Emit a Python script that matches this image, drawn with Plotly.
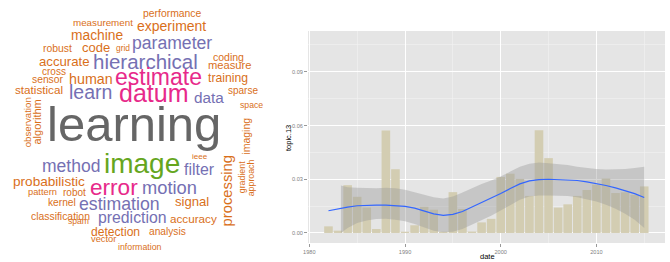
import plotly.graph_objects as go

W, H = 670, 262

# ---------------- data ----------------
years = list(range(1982, 2016))
topic13 = [0.0037, 0.0013, 0.0267, 0.0202, 0.0142, 0.0022, 0.0573, 0.0356, 0.0007, 0.0043,
           0.0146, 0.0130, 0.0007, 0.0228, 0.0134, 0.0008, 0.0059, 0.0079, 0.0313, 0.0331,
           0.0302, 0.0207, 0.0574, 0.0418, 0.0142, 0.0160, 0.0207, 0.0240, 0.0270, 0.0304,
           0.0223, 0.0227, 0.0213, 0.0260]

smooth_fit = [0.0124, 0.0135, 0.0144, 0.0152, 0.0156, 0.0156, 0.0156, 0.0154, 0.0148, 0.0139,
              0.0124, 0.0107, 0.0098, 0.0104, 0.0120, 0.0144, 0.0169, 0.0193, 0.0220, 0.0248,
              0.0274, 0.0291, 0.0298, 0.0300, 0.0298, 0.0296, 0.0293, 0.0285, 0.0276, 0.0265,
              0.0252, 0.0237, 0.0220, 0.0198]

band_years = [1983.3] + list(range(1984, 2016))
band_upper = [0.0265, 0.0256, 0.0252, 0.0250, 0.0250, 0.0252, 0.0250, 0.0241, 0.0226, 0.0213,
              0.0200, 0.0193, 0.0204, 0.0226, 0.0252, 0.0274, 0.0293, 0.0315, 0.0343, 0.0370,
              0.0387, 0.0393, 0.0390, 0.0387, 0.0380, 0.0370, 0.0363, 0.0357, 0.0354, 0.0354,
              0.0357, 0.0363, 0.0370]
band_lower = [0.0000, 0.0028, 0.0056, 0.0070, 0.0078, 0.0080, 0.0074, 0.0065, 0.0050, 0.0033,
              0.0013, 0.0004, 0.0007, 0.0022, 0.0046, 0.0070, 0.0096, 0.0126, 0.0157, 0.0185,
              0.0204, 0.0209, 0.0209, 0.0209, 0.0206, 0.0200, 0.0189, 0.0176, 0.0157, 0.0135,
              0.0107, 0.0074, 0.0028]

y_ticks = [0.00, 0.03, 0.06, 0.09]
y_tick_labels = ["0.00", "0.03", "0.06", "0.09"]
x_ticks = [1980, 1990, 2000, 2010]
x_tick_labels = ["1980", "1990", "2000", "2010"]

words = ["performance", "measurement", "experiment", "machine", "parameter", "robust", "code",
         "grid", "hierarchical", "accurate", "coding", "measure", "training", "cross", "sensor",
         "human", "estimate", "statistical", "learn", "datum", "data", "sparse", "space",
         "learning", "observation", "algorithm", "imaging", "image", "method", "ieee", "filter",
         "processing", "gradient", "approach", "probabilistic", "error", "motion", "pattern",
         "robot", "kernel", "estimation", "signal", "classification", "spam", "prediction",
         "accuracy", "detection", "analysis", "vector", "information"]

# ---------------- word-cloud layout (pixel centre x, y, font px, colour, angle) ----------------
OR, PU, PK, GR, GY = "#D96F1A", "#7570B3", "#E7298A", "#66A61E", "#666666"
placement = {
    "performance": (172, 14, 10.4, OR, 0),
    "measurement": (102.7, 22.7, 9.8, OR, 0),
    "experiment": (171.3, 26, 14, OR, 0),
    "machine": (97.2, 35, 13.8, OR, 0),
    "parameter": (171.7, 42.7, 17.6, PU, 0),
    "robust": (57.8, 48.3, 10.4, OR, 0),
    "code": (95.8, 47.3, 13, OR, 0),
    "grid": (123, 48.3, 8.4, OR, 0),
    "hierarchical": (145.8, 61, 20.5, PU, 0),
    "accurate": (64.7, 61.7, 13.2, OR, 0),
    "coding": (228.5, 56.5, 10.5, OR, 0),
    "measure": (230, 65.3, 11.2, OR, 0),
    "training": (228.3, 78.3, 12.2, OR, 0),
    "cross": (53.7, 71, 10, OR, 0),
    "sensor": (47.8, 79.3, 10.3, OR, 0),
    "human": (90.8, 79, 14.3, OR, 0),
    "estimate": (158.3, 77.3, 23, PK, 0),
    "statistical": (39.2, 89.3, 11.7, OR, 0),
    "learn": (90, 91.7, 19.5, PU, 0),
    "datum": (153, 93, 25, PK, 0),
    "data": (209, 97.7, 15.3, PU, 0),
    "sparse": (243.3, 90.7, 10, OR, 0),
    "space": (251.7, 105, 8.7, OR, 0),
    "learning": (134, 124, 49, GY, 0),
    "observation": (27.3, 122, 9.7, OR, -90),
    "algorithm": (36.5, 122, 11, OR, -90),
    "imaging": (246, 136.7, 10.5, OR, -90),
    "image": (141.7, 163, 28, GR, 0),
    "method": (70.8, 165.7, 17.5, PU, 0),
    "ieee": (200, 156.7, 8, OR, 0),
    "filter": (200, 169, 15.9, PU, 0),
    "processing": (226.7, 190.8, 14.8, OR, -90),
    "gradient": (241.7, 177.5, 8.8, OR, -90),
    "approach": (251, 178.3, 8.8, OR, -90),
    "probabilistic": (49.2, 181.7, 13.6, OR, 0),
    "error": (114.5, 187.3, 22.6, PK, 0),
    "motion": (169.2, 187.3, 18.3, PU, 0),
    "pattern": (42.2, 192.3, 9.3, OR, 0),
    "robot": (74.7, 192.3, 10, OR, 0),
    "kernel": (62.2, 202.7, 10.2, OR, 0),
    "estimation": (119.7, 204, 17.7, PU, 0),
    "signal": (192.2, 201.7, 13.1, OR, 0),
    "classification": (60.2, 216, 10.4, OR, 0),
    "spam": (78.8, 220.7, 8.6, OR, 0),
    "prediction": (132.5, 217.3, 15.8, PU, 0),
    "accuracy": (193.3, 218.3, 11.7, OR, 0),
    "detection": (115.5, 231.7, 12.1, OR, 0),
    "analysis": (167.7, 231.7, 10.2, OR, 0),
    "vector": (103.3, 239.3, 9.3, OR, 0),
    "information": (140, 246.7, 8.8, OR, 0),
}

FONT = "Liberation Sans, Arial, Helvetica, sans-serif"

def px_x(x):
    return x / W

def px_y(y):
    return 1 - y / H

annotations = []
for w in words:
    cx, cy, size, col, ang = placement[w]
    annotations.append(dict(
        text=w, x=px_x(cx), y=px_y(cy), xref="paper", yref="paper",
        xanchor="center", yanchor="middle", showarrow=False, textangle=ang,
        font=dict(family=FONT, size=size, color=col),
    ))

# axis titles
annotations.append(dict(text="topic.13", x=px_x(288), y=px_y(138), xref="paper", yref="paper",
                        xanchor="center", yanchor="middle", showarrow=False, textangle=-90,
                        font=dict(family=FONT, size=7.5, color="#000000")))
annotations.append(dict(text="date", x=px_x(487), y=px_y(256), xref="paper", yref="paper",
                        xanchor="center", yanchor="middle", showarrow=False,
                        font=dict(family=FONT, size=7.5, color="#000000")))

# ---------------- figure ----------------
fig = go.Figure()
fig.add_trace(go.Bar(x=years, y=topic13, width=0.9,
                     marker=dict(color="#D3CDB2", line=dict(width=0)), hoverinfo="skip"))
fig.add_trace(go.Scatter(x=band_years, y=band_lower, mode="lines", line=dict(width=0),
                         hoverinfo="skip"))
fig.add_trace(go.Scatter(x=band_years, y=band_upper, mode="lines", line=dict(width=0),
                         fill="tonexty", fillcolor="rgba(153,153,153,0.4)", hoverinfo="skip"))
fig.add_trace(go.Scatter(x=years, y=smooth_fit, mode="lines",
                         line=dict(color="#3366FF", width=1.2), hoverinfo="skip"))

x0, x1 = 308, 665
y0, y1 = 31, 243
fig.update_layout(
    width=W, height=H, showlegend=False,
    margin=dict(l=0, r=0, t=0, b=0, pad=0),
    paper_bgcolor="white", plot_bgcolor="#E5E5E5",
    annotations=annotations,
    xaxis=dict(domain=[x0 / W, x1 / W], range=[1979.86, 2017.17], automargin=False,
               tickmode="array", tickvals=x_ticks, ticktext=x_tick_labels,
               ticks="outside", ticklen=3, tickcolor="#7F7F7F", tickwidth=0.8,
               tickfont=dict(family=FONT, size=5.6, color="#7F7F7F"),
               showgrid=True, gridcolor="#FFFFFF", gridwidth=1, zeroline=False,
               showline=False,
               minor=dict(tickvals=[1985, 1995, 2005, 2015], showgrid=True,
                          gridcolor="#F2F2F2", gridwidth=0.6, ticks="")),
    yaxis=dict(domain=[1 - y1 / H, 1 - y0 / H], range=[-0.0056, 0.1128], automargin=False,
               tickmode="array", tickvals=y_ticks, ticktext=y_tick_labels,
               ticks="outside", ticklen=3, tickcolor="#7F7F7F", tickwidth=0.8,
               tickfont=dict(family=FONT, size=5.6, color="#7F7F7F"),
               showgrid=True, gridcolor="#FFFFFF", gridwidth=1, zeroline=False,
               showline=False,
               minor=dict(tickvals=[0.015, 0.045, 0.075, 0.105], showgrid=True,
                          gridcolor="#F2F2F2", gridwidth=0.6, ticks="")),
)

fig.write_html("out.html", config={"displayModeBar": False, "staticPlot": True},
               post_script="document.body.style.margin='0';document.body.style.padding='0';")
